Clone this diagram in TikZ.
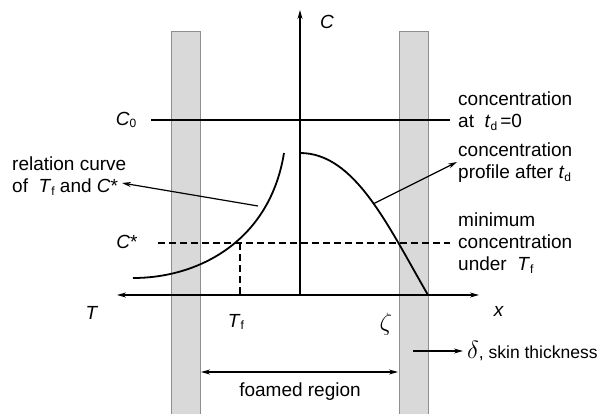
\documentclass[tikz,border=0pt]{standalone}
\usepackage{fontspec}
\setmainfont{Liberation Sans}
\usetikzlibrary{arrows.meta}
\definecolor{barfill}{HTML}{D9D9D9}
\definecolor{baredge}{HTML}{8E8E8E}
\newcommand{\skinbar}[2]{%
  \fill[barfill] (#1,32) rectangle (#2,416);
  \draw[baredge, line width=1pt] (#1,416) -- (#1,32) -- (#2,32) -- (#2,416);
}
\newcommand{\vsub}[2]{\textit{#1}\raisebox{-0.25ex}{\fontsize{12}{12}\selectfont#2}}
\newcommand{\bigsym}[1]{{\fontsize{24}{22}\selectfont$#1$}}

\begin{document}
\begin{tikzpicture}[x=1pt, y=-1pt,
  every node/.style={font=\fontsize{19}{22}\selectfont, inner sep=0pt},
  axisline/.style={line width=1.3pt},
  curveline/.style={line width=1.8pt},
  guide/.style={line width=1.2pt, dash pattern=on 7pt off 4pt},
  pointer/.style={line width=1.2pt, -{Stealth[length=9pt, width=5pt]}}]

  \useasboundingbox (0,0) rectangle (599,414);

  \skinbar{171}{200}
  \skinbar{399}{428}

  \coordinate (O) at (300,295);
  \coordinate (ctop) at (300,10);
  \coordinate (tend) at (117,295);
  \coordinate (xend) at (479,295);

  \draw[axisline, -{Stealth[length=9pt, width=5pt]}] (O) -- (ctop);
  \draw[axisline, {Stealth[length=9pt, width=5pt]}-{Stealth[length=9pt, width=5pt]}] (tend) -- (xend);

  \node (clab) at (327,22) {\textit{C}};
  \node (tlab) at (92,313) {\textit{T}};
  \node (xlab) at (499,311) {\textit{x}};
  \node (tflab) at (236,322) {\vsub{T}{f}};
  \node (zetalab) at (386,324) {\bigsym{\zeta}};

  % initial level and threshold
  \node (czero) at (126,120) {\vsub{C}{0}};
  \node (cstar) at (127,242) {\textit{C}*};
  \coordinate (czeroend) at (450,120);
  \coordinate (cstarend) at (450,243);
  \draw[axisline] ([xshift=15pt]czero.east) -- (czeroend);
  \draw[guide] ([xshift=20pt]cstar.east |- cstarend) -- (cstarend);
  \coordinate (tfcross) at (240,243);
  \draw[guide] (tfcross) -- (240,295);

  % curves
  \draw[curveline] (133,278) .. controls (200,278) and (270,240) .. (284,153);
  \draw[curveline] (300,153) .. controls (355,153) and (388,226) .. (428,295);

  % texts
  \node[anchor=west, align=left] (conczero) at (458,111) {concentration\\at~~\vsub{t}{d}\,=0};
  \node[anchor=west, align=left] (concprofile) at (458,163) {concentration\\profile after \vsub{t}{d}};
  \node[anchor=west, align=left] (minconc) at (458,243) {minimum\\concentration\\under~~\vsub{T}{f}};
  \node[anchor=west, align=left] (relcurve) at (12,176) {relation curve\\of~~\vsub{T}{f} and \textit{C}*};
  \node[anchor=west, font=\fontsize{17.5}{22}\selectfont] (skin) at (467,351) {\bigsym{\delta}, skin thickness};
  \node (foamed) at (300,392) {foamed region};

  \coordinate (relfoot) at (258,206);
  \coordinate (relhead) at (122,183);
  \coordinate (proffoot) at (373,204);
  \coordinate (profhead) at (457,162);
  \coordinate (skinfoot) at (413,351);
  \coordinate (foamleft) at (201,372);
  \coordinate (foamright) at (398,372);

  \draw[pointer] (relfoot) -- (relhead);
  \draw[pointer] (proffoot) -- (profhead);
  \draw[pointer] (skinfoot) -- ([xshift=-4pt]skin.west);
  \draw[pointer, {Stealth[length=9pt, width=5pt]}-{Stealth[length=9pt, width=5pt]}] (foamleft) -- (foamright);

\end{tikzpicture}
\end{document}
